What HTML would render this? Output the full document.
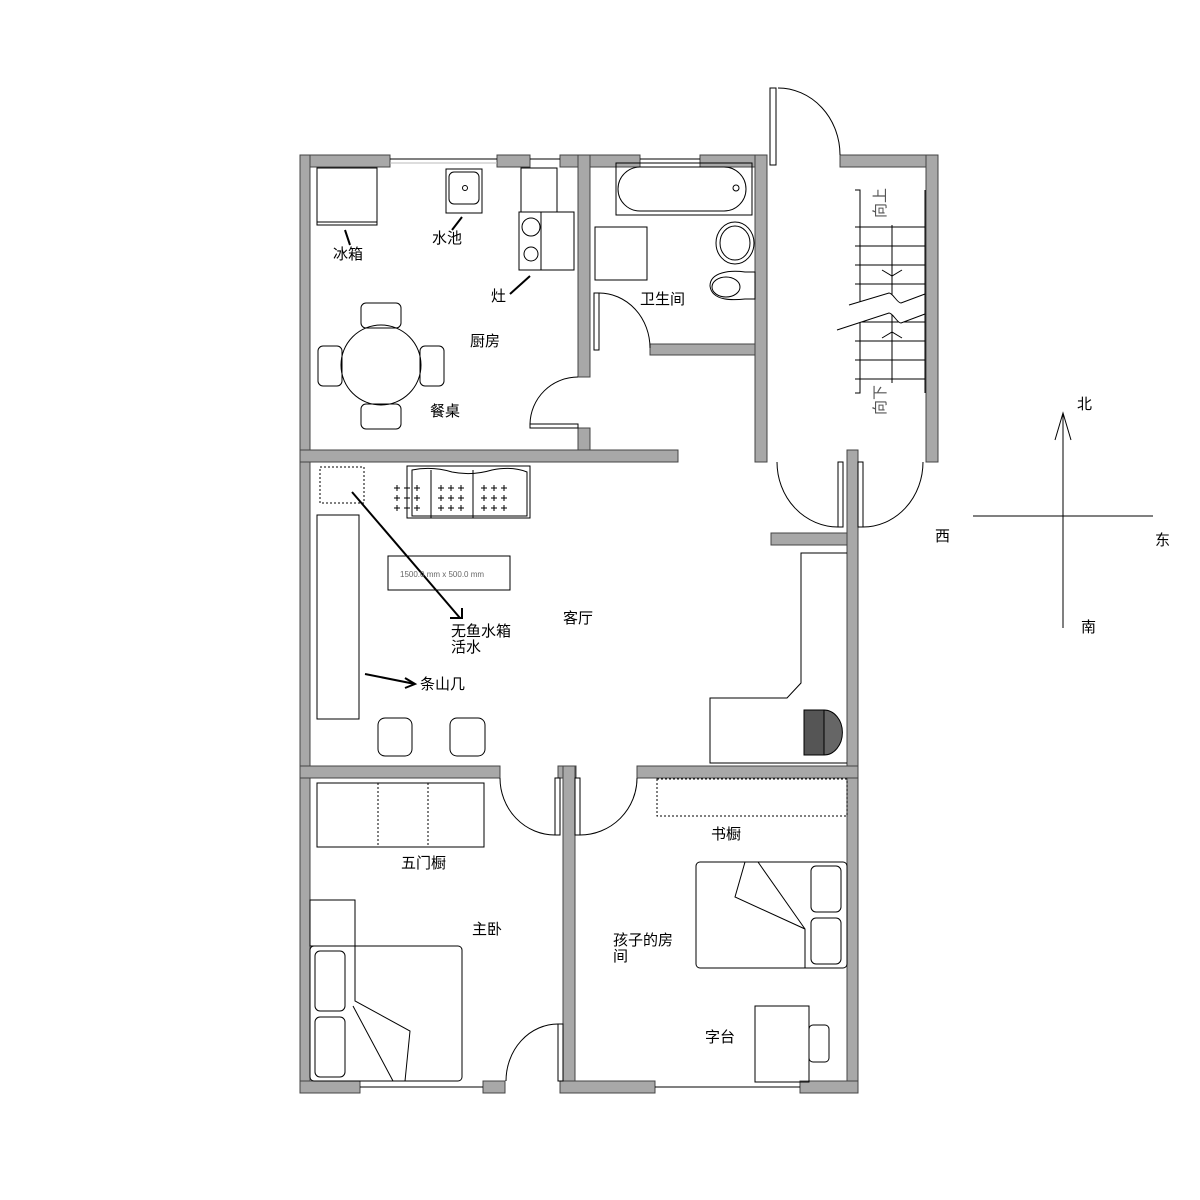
<!DOCTYPE html>
<html><head><meta charset="utf-8"><style>
body{margin:0;background:#fff;width:1200px;height:1200px;overflow:hidden}
svg{display:block}
text{font-family:"Liberation Sans","Noto Sans CJK SC",sans-serif;font-size:15px;fill:#000}
</style></head><body>
<svg width="1200" height="1200" viewBox="0 0 1200 1200" xmlns="http://www.w3.org/2000/svg">
<defs><path id="cr" d="M-3,0h6M0,-3v6" stroke="#000" stroke-width="1"/></defs>
<g fill="#a8a8a8" stroke="#444" stroke-width="1">
<rect x="300" y="155" width="90" height="12"/>
<rect x="497" y="155" width="33" height="12"/>
<rect x="560" y="155" width="80" height="12"/>
<rect x="700" y="155" width="65" height="12"/>
<rect x="840" y="155" width="98" height="12"/>
<rect x="300" y="155" width="10" height="938"/>
<rect x="578" y="155" width="12" height="222"/>
<rect x="578" y="428" width="12" height="34"/>
<rect x="755" y="155" width="12" height="307"/>
<rect x="926" y="155" width="12" height="307"/>
<rect x="650" y="344" width="105" height="11"/>
<rect x="300" y="450" width="378" height="12"/>
<rect x="847" y="450" width="11" height="643"/>
<rect x="771" y="533" width="76" height="12"/>
<rect x="300" y="766" width="200" height="12"/>
<rect x="558" y="766" width="18" height="12"/>
<rect x="637" y="766" width="221" height="12"/>
<rect x="563" y="766" width="12" height="327"/>
<rect x="300" y="1081" width="60" height="12"/>
<rect x="483" y="1081" width="22" height="12"/>
<rect x="560" y="1081" width="95" height="12"/>
<rect x="800" y="1081" width="58" height="12"/>
</g>
<g fill="none" stroke="#000" stroke-width="1">
<line x1="390" y1="159" x2="497" y2="159"/><line x1="390" y1="163" x2="497" y2="163" stroke="#bbb"/>
<line x1="530" y1="159" x2="560" y2="159"/>
<line x1="640" y1="159" x2="700" y2="159"/><line x1="640" y1="163" x2="700" y2="163" stroke="#bbb"/>
<line x1="360" y1="1087" x2="483" y2="1087"/>
<line x1="655" y1="1087" x2="800" y2="1087"/>
<rect x="770" y="88" width="6" height="77" fill="#fff"/>
<path d="M778,88 A62,67 0 0 1 840,155"/>
<rect x="530" y="424" width="48" height="4" fill="#fff"/>
<path d="M530,424 A48,48 0 0 1 578,377"/>
<rect x="594" y="293" width="5" height="57" fill="#fff"/>
<path d="M599,293 A51,55 0 0 1 650,348"/>
<rect x="838" y="462" width="5" height="65" fill="#fff"/>
<path d="M777,462 A61,65 0 0 0 838,527"/>
<rect x="858" y="462" width="5" height="65" fill="#fff"/>
<path d="M923,462 A60,65 0 0 1 863,527"/>
<rect x="555" y="778" width="5" height="57" fill="#fff"/>
<path d="M500,778 A55,57 0 0 0 555,835"/>
<rect x="575" y="778" width="5" height="57" fill="#fff"/>
<path d="M637,778 A57,57 0 0 1 580,835"/>
<rect x="558" y="1024" width="5" height="57" fill="#fff"/>
<path d="M558,1024 A52,57 0 0 0 506,1081"/>
<rect x="317" y="168" width="60" height="57"/><line x1="317" y1="222" x2="377" y2="222"/>
<rect x="446" y="169" width="36" height="44"/><rect x="449" y="172" width="30" height="32" rx="5"/><circle cx="465" cy="188" r="2.5"/>
<rect x="521" y="168" width="36" height="44"/>
<rect x="519" y="212" width="55" height="58"/><line x1="541" y1="212" x2="541" y2="270"/><circle cx="531" cy="227" r="9"/><circle cx="531" cy="254" r="7"/>
<circle cx="381" cy="365" r="40"/>
<rect x="361" y="303" width="40" height="25" rx="5"/><rect x="361" y="404" width="40" height="25" rx="5"/>
<rect x="318" y="346" width="24" height="40" rx="5"/><rect x="420" y="346" width="24" height="40" rx="5"/>
<rect x="616" y="163" width="136" height="52"/><rect x="618" y="167" width="128" height="44" rx="22"/><circle cx="736" cy="188" r="3"/>
<rect x="595" y="227" width="52" height="53"/>
<ellipse cx="735" cy="243" rx="19" ry="21"/><ellipse cx="735" cy="243" rx="15" ry="17"/>
<path d="M745,272 h10 v27 h-10 C735,300 712,302 710,286 C710,272 730,270 745,272Z"/><ellipse cx="726" cy="287" rx="14" ry="10"/>
<path d="M855,190 h5 v203 h-5"/>
<line x1="925" y1="190" x2="925" y2="393"/>
<line x1="855" y1="227" x2="925" y2="227"/><line x1="855" y1="246" x2="925" y2="246"/><line x1="855" y1="265" x2="925" y2="265"/>
<line x1="855" y1="284" x2="925" y2="284"/><line x1="855" y1="322" x2="925" y2="322"/>
<line x1="855" y1="341" x2="925" y2="341"/><line x1="855" y1="360" x2="925" y2="360"/><line x1="855" y1="379" x2="925" y2="379"/>
<line x1="892" y1="225" x2="892" y2="383"/>
<path d="M882,270 l10,6 l10,-6 M882,338 l10,-6 l10,6"/>
<path d="M849,305 l40,-12 c4,0 8,10 12,10 l24,-9 v20 l-24,9 c-4,0 -8,-10 -12,-10 l-52,17" fill="#fff"/>
<rect x="320" y="467" width="44" height="36" stroke-dasharray="2,2"/>
<rect x="407" y="466" width="123" height="52"/>
<path d="M412,470 q20,-4 40,2 q20,4 40,-2 q20,-4 35,2 v44 h-115z"/>
<line x1="431" y1="470" x2="431" y2="518"/><line x1="473" y1="470" x2="473" y2="518"/>
<rect x="317" y="515" width="42" height="204"/>
<rect x="388" y="556" width="122" height="34"/>
<rect x="378" y="718" width="34" height="38" rx="7"/><rect x="450" y="718" width="35" height="38" rx="7"/>
<path d="M847,553 h-46 v130 l-14,15 h-77 v65 h137"/>
<rect x="804" y="710" width="20" height="45" fill="#555"/><path d="M824,710 a18,22 0 0 1 0,45z" fill="#666"/>
<rect x="317" y="783" width="167" height="64"/><line x1="378" y1="783" x2="378" y2="847" stroke-dasharray="2,2"/><line x1="428" y1="783" x2="428" y2="847" stroke-dasharray="2,2"/>
<rect x="310" y="900" width="45" height="46"/>
<rect x="310" y="946" width="152" height="135" rx="4"/>
<rect x="315" y="951" width="30" height="60" rx="5"/><rect x="315" y="1017" width="30" height="60" rx="5"/>
<path d="M355,946 v55 l55,30 l-5,50 h-12 l-40,-75"/>
<rect x="657" y="779" width="190" height="37" stroke-dasharray="2,2"/>
<rect x="696" y="862" width="151" height="106" rx="4"/>
<rect x="811" y="866" width="30" height="46" rx="5"/><rect x="811" y="918" width="30" height="46" rx="5"/>
<path d="M745,862 l-10,35 l70,32 v39 M758,862 l47,67"/>
<rect x="755" y="1006" width="54" height="76"/><rect x="809" y="1025" width="20" height="37" rx="4"/>
<g stroke-width="2">
<line x1="345" y1="230" x2="350" y2="245"/><line x1="462" y1="217" x2="452" y2="230"/><line x1="530" y1="276" x2="510" y2="294"/>
<line x1="352" y1="492" x2="460" y2="618"/><path d="M450,618 h12 v-10"/>
<line x1="365" y1="674" x2="415" y2="684"/><path d="M405,678 l10,6 l-10,4"/>
</g>
<line x1="1063" y1="413" x2="1063" y2="628"/><line x1="973" y1="516" x2="1153" y2="516"/>
<path d="M1055,440 l8,-27 l8,27"/>
</g>
<g>
<use href="#cr" x="397" y="488"/><use href="#cr" x="407" y="488"/><use href="#cr" x="417" y="488"/>
<use href="#cr" x="397" y="498"/><use href="#cr" x="407" y="498"/><use href="#cr" x="417" y="498"/>
<use href="#cr" x="397" y="508"/><use href="#cr" x="407" y="508"/><use href="#cr" x="417" y="508"/>
<use href="#cr" x="441" y="488"/><use href="#cr" x="451" y="488"/><use href="#cr" x="461" y="488"/>
<use href="#cr" x="441" y="498"/><use href="#cr" x="451" y="498"/><use href="#cr" x="461" y="498"/>
<use href="#cr" x="441" y="508"/><use href="#cr" x="451" y="508"/><use href="#cr" x="461" y="508"/>
<use href="#cr" x="484" y="488"/><use href="#cr" x="494" y="488"/><use href="#cr" x="504" y="488"/>
<use href="#cr" x="484" y="498"/><use href="#cr" x="494" y="498"/><use href="#cr" x="504" y="498"/>
<use href="#cr" x="484" y="508"/><use href="#cr" x="494" y="508"/><use href="#cr" x="504" y="508"/>
</g>
<text x="400" y="577" style="font-size:8px;fill:#666">1500.0 mm x 500.0 mm</text>
<text x="333" y="259">冰箱</text>
<text x="432" y="243">水池</text>
<text x="491" y="301">灶</text>
<text x="470" y="346">厨房</text>
<text x="430" y="416">餐桌</text>
<text x="640" y="304">卫生间</text>
<text x="563" y="623">客厅</text>
<text x="451" y="636">无鱼水箱</text>
<text x="451" y="652">活水</text>
<text x="420" y="689">条山几</text>
<text x="401" y="868">五门橱</text>
<text x="711" y="839">书橱</text>
<text x="472" y="934">主卧</text>
<text x="613" y="945">孩子的房</text>
<text x="613" y="961">间</text>
<text x="705" y="1042">字台</text>
<text x="1077" y="409">北</text>
<text x="935" y="541">西</text>
<text x="1155" y="545">东</text>
<text x="1081" y="632">南</text>
<text transform="translate(885,218) rotate(-90)" style="fill:#555">向上</text>
<text transform="translate(885,415) rotate(-90)" style="fill:#555">向下</text>
</svg>
</body></html>
